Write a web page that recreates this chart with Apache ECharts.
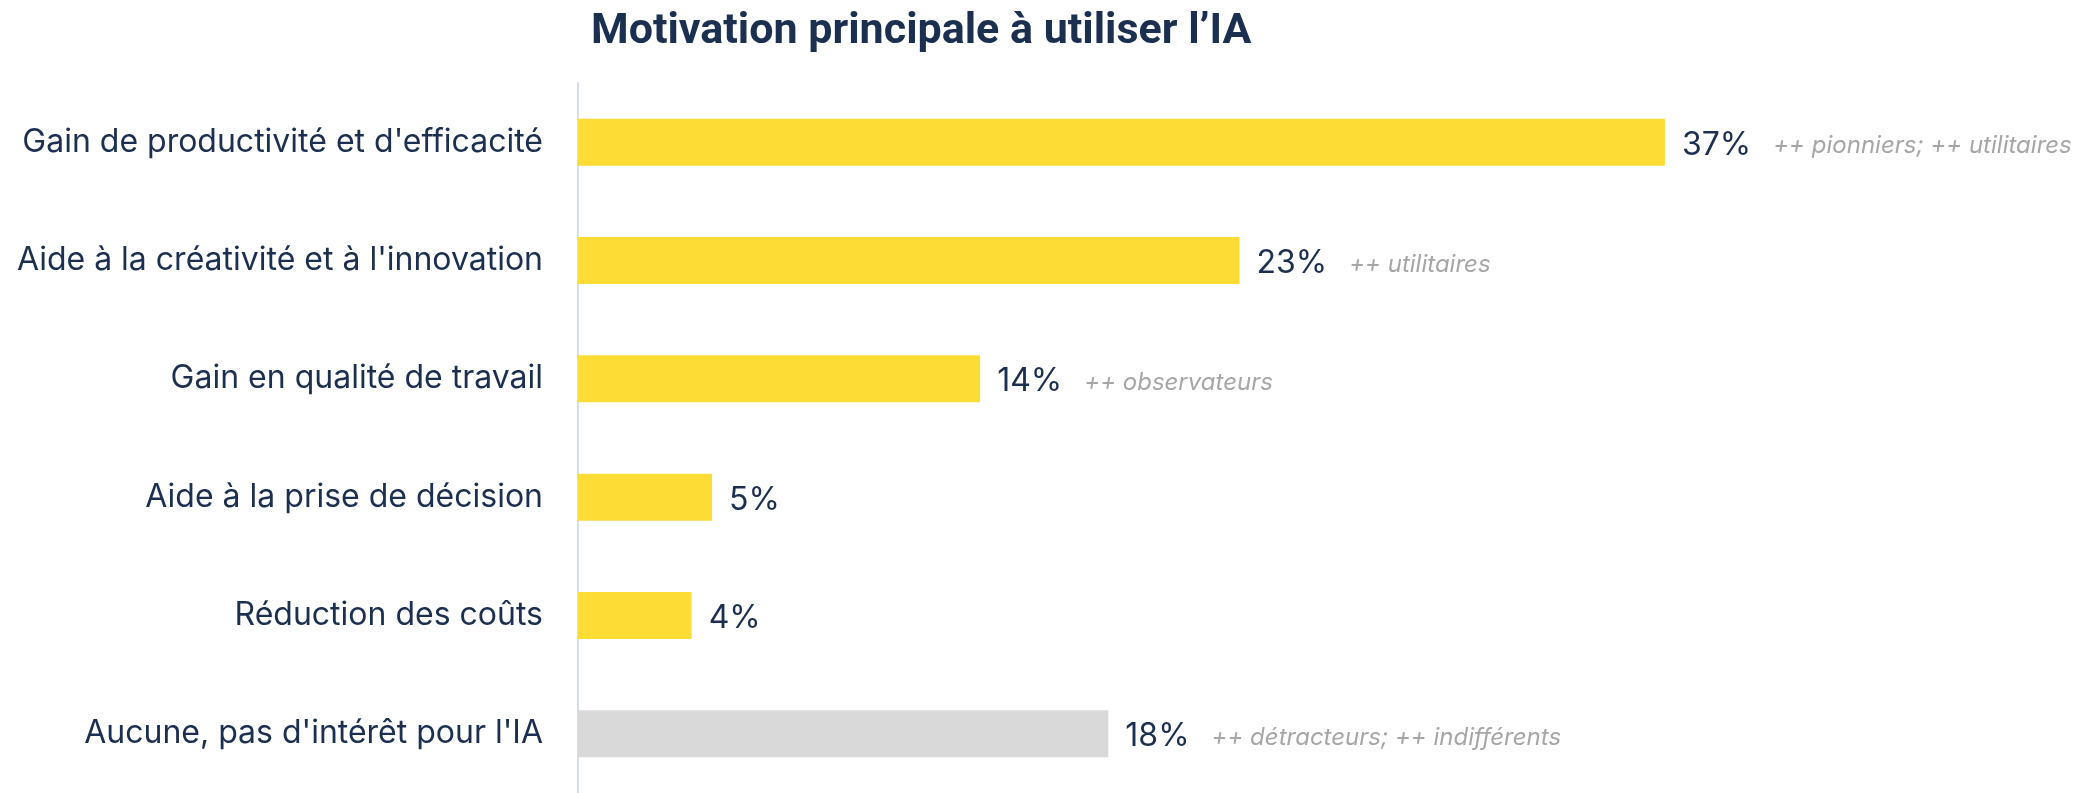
<!DOCTYPE html>
<html>
<head>
<meta charset="utf-8">
<script src="https://cdn.jsdelivr.net/npm/echarts@6/dist/echarts.min.js"></script>
<style>
  html, body { margin: 0; padding: 0; background: #fff; }
  #chart { width: 2097px; height: 793px; }
</style>
</head>
<body>
<div id="chart"></div>
<script>
const categories = [
  "Gain de productivité et d'efficacité",
  "Aide à la créativité et à l'innovation",
  'Gain en qualité de travail',
  'Aide à la prise de décision',
  'Réduction des coûts',
  "Aucune, pas d'intérêt pour l'IA",
]
const values = [37.3, 22.7, 13.8, 4.6, 3.9, 18.2]
const notes = [
  '++ pionniers; ++ utilitaires',
  '++ utilitaires',
  '++ observateurs',
  '',
  '',
  '++ détracteurs; ++ indifférents',
]
const barColors = ['#FEDC36', '#FEDC36', '#FEDC36', '#FEDC36', '#FEDC36', '#D9D9D9']

const navy = '#1B2F50'

const chart = echarts.init(document.getElementById('chart'))
chart.setOption({
  animation: false,
  title: {
    text: 'Motivation principale à utiliser l’IA',
    left: 586,
    top: 6,
    textStyle: {
      fontFamily: 'Roboto',
      fontWeight: 'bold',
      fontSize: 43,
      color: navy,
    },
  },
  grid: {
    left: 578,
    right: 62,
    top: 83,
    bottom: -4,
  },
  xAxis: {
    type: 'value',
    min: 0,
    max: 50,
    show: false,
  },
  yAxis: {
    type: 'category',
    inverse: true,
    data: categories,
    axisTick: { show: false },
    axisLine: { show: true, lineStyle: { color: '#D6DDEA', width: 2 } },
    axisLabel: {
      margin: 35,
      fontFamily: 'Inter',
      fontSize: 32,
      color: navy,
      padding: [6, 0, 0, 0],
    },
  },
  series: [
    {
      type: 'bar',
      barWidth: 47,
      data: values.map((v, i) => ({ value: v, itemStyle: { color: barColors[i] } })),
      label: {
        show: true,
        position: 'right',
        distance: 17,
        padding: [6, 0, 0, 0],
        formatter: (p) => {
          const n = notes[p.dataIndex]
          return '{v|' + Math.round(p.value) + '%}' + (n ? '{n|' + n + '}' : '')
        },
        rich: {
          v: { fontFamily: 'Inter', fontSize: 32, color: navy },
          n: {
            fontFamily: 'Inter',
            fontStyle: 'italic',
            fontSize: 24,
            color: '#A6A6A6',
            padding: [2, 0, 0, 22],
          },
        },
      },
    },
  ],
})
</script>
</body>
</html>
